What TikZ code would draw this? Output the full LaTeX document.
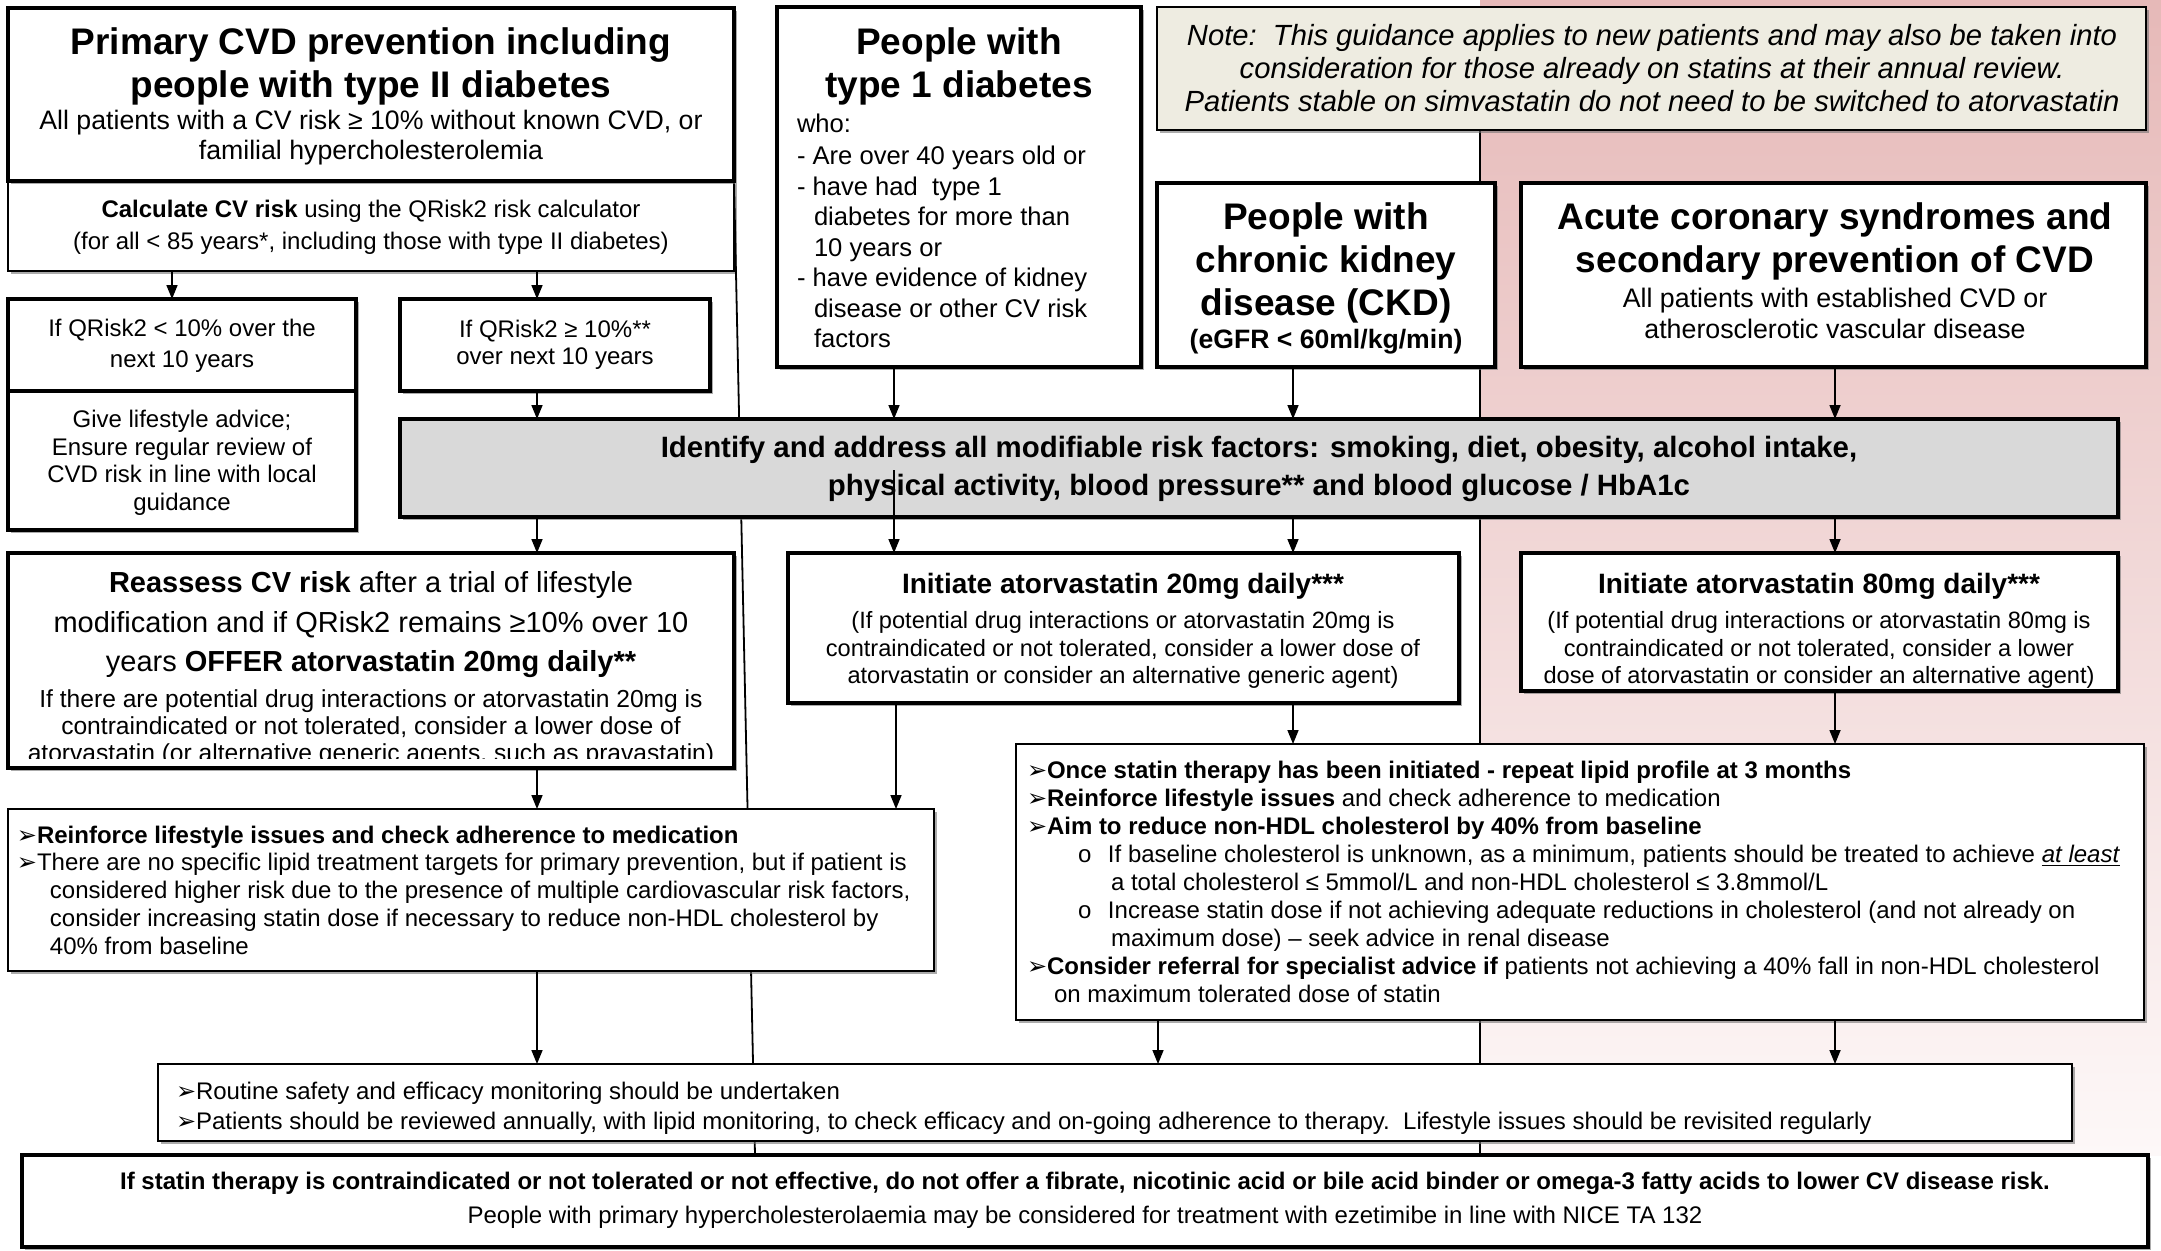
\documentclass[tikz,border=0pt]{standalone}
\usepackage{fontspec}
\setmainfont{Liberation Sans}
\newfontfamily\dejavu{DejaVu Sans}
\usetikzlibrary{arrows.meta,fit,shadows}
\definecolor{notefill}{HTML}{EEECE1}
\definecolor{pinkA}{HTML}{E6B9B8}
\definecolor{pinkB}{HTML}{FDF8F8}
\definecolor{idfill}{HTML}{D9D9D9}
\newcommand\myfs[2]{\fontsize{#1}{#2}\selectfont}
\newcommand\bul{\makebox[10pt][l]{\dejavu ➢}}
\newcommand\tstrut{\rule{0pt}{0.8em}}
\tikzset{
  shd/.style={drop shadow={shadow xshift=1.3pt,shadow yshift=-1.3pt,fill=black!55,opacity=0.6}},
  boxk/.style={draw,line width=1.75pt,fill=white,inner sep=0pt,outer sep=0pt,shd},
  boxn/.style={draw,line width=0.75pt,fill=white,inner sep=0pt,outer sep=0pt,shd},
  txt/.style={inner sep=0pt,outer sep=0pt,align=center},
  ltxt/.style={inner sep=0pt,outer sep=0pt,align=left,anchor=north west},
  arr/.style={line width=0.8pt,-{Triangle[length=7pt,width=5.5pt]}},
  ln/.style={line width=0.9pt},
  ttl/.style={font=\myfs{18.5}{21.5}\bfseries},
}
\begin{document}
\begin{tikzpicture}[x=0.5pt,y=-0.5pt]
\useasboundingbox (0,0) rectangle (2161,1250);
\fill[white] (0,0) rectangle (2161,1250);
% pink region
\shade[top color=pinkA,bottom color=pinkB] (1480,0) rectangle (2161,1155);
\coordinate (pk1) at (1480,130);
\coordinate (pk2) at (1480,1155);
\coordinate (lsEnd) at (755,1155);
% column coordinates
\coordinate (cA) at (172,0);
\coordinate (cB) at (537,0);
\coordinate (cC) at (894,0);
\coordinate (cD) at (1293,0);
\coordinate (cE) at (1835,0);
\coordinate (cF) at (1158,0);
\coordinate (cG) at (896,0);
\coordinate (idIn) at (894,470);

% boxes
\node[boxn,fit={(8,181) (734,271)}] (calc) {};
\draw[ln] (calc.north east) -- (lsEnd);
\draw[line width=0.75pt] (pk1) -- (pk2);
\node[boxk,fit={(8,8) (734,181)}] (prim) {};
\node[boxk,fit={(8,299) (356,391)}] (q1) {};
\node[boxk,fit={(8,391) (356,530)}] (life) {};
\node[boxk,fit={(400,299) (710,391)}] (q2) {};
\node[boxk,fit={(777,7) (1141,367)}] (t1) {};
\node[draw,line width=0.75pt,fill=notefill,inner sep=0pt,outer sep=0pt,shd,fit={(1157,7) (2146,130)}] (note) {};
\node[boxk,fit={(1157,183) (1495,367)}] (ckd) {};
\node[boxk,fit={(1521,183) (2146,367)}] (acs) {};
\node[draw,line width=1.75pt,fill=idfill,inner sep=0pt,outer sep=0pt,shd,fit={(400,419) (2118,517)}] (ident) {};
\node[boxk,fit={(8,553) (734,768)}] (reas) {};
\node[boxk,fit={(788,553) (1459,703)}] (i20) {};
\node[boxk,fit={(1521,553) (2118,691)}] (i80) {};
\node[boxn,fit={(1016,744) (2144,1020)}] (once) {};
\node[boxn,fit={(8,809) (934,971)}] (reinf) {};
\node[boxn,fit={(158,1064) (2072,1141)}] (rout) {};
\node[draw,line width=2.25pt,fill=white,inner sep=0pt,outer sep=0pt,shd,fit={(22,1155) (2148,1247)}] (fin) {};

% texts
\node[txt,ttl] (primT) at (371,66) {Primary CVD prevention including\\people with type II diabetes};
\node[txt,font=\myfs{13.35}{15}] (primS) at (371,138) {All patients with a CV risk ≥ 10\% without known CVD, or\\familial hypercholesterolemia};
\node[txt,font=\myfs{12}{16}] (calcT) at (371,227) {\textbf{Calculate CV risk} using the QRisk2 risk calculator\\(for all < 85 years*, including those with type II diabetes)};
\node[txt,font=\myfs{12}{15.5}] (q1T) at (182,346) {If QRisk2 < 10\% over the\\next 10 years};
\node[txt,font=\myfs{12}{13.75}] (lifeT) at (182,463) {Give lifestyle advice;\\Ensure regular review of\\CVD risk in line with local\\guidance};
\node[txt,font=\myfs{12}{13.75}] (q2T) at (555,345) {If QRisk2 ≥ 10\%**\\over next 10 years};
\node[txt,ttl] (t1T) at (959,66) {People with\\type 1 diabetes};
\node[ltxt,font=\myfs{12.8}{15.25}] (t1B) at (797,112) {\tstrut who:\\[1pt]- Are over 40 years old or\\- have had\ \ type 1\\\hspace*{8.5pt}diabetes for more than\\\hspace*{8.5pt}10 years or\\- have evidence of kidney\\\hspace*{8.5pt}disease or other CV risk\\\hspace*{8.5pt}factors};
\node[txt,font=\myfs{14.6}{16.5}\itshape] (noteT) at (1652,68) {Note:\ \ This guidance applies to new patients and may also be taken into\\consideration for those already on statins at their annual review.\\Patients stable on simvastatin do not need to be switched to atorvastatin};
\node[txt,ttl] (ckdT) at (1326,263) {People with\\chronic kidney\\disease (CKD)};
\node[txt,font=\myfs{13.3}{15}\bfseries] (ckdS) at (1326,342) {(eGFR < 60ml/kg/min)};
\node[txt,ttl] (acsT) at (1835,241) {Acute coronary syndromes and\\secondary prevention of CVD};
\node[txt,font=\myfs{13.4}{15.5}] (acsS) at (1835,313) {All patients with established CVD or\\atherosclerotic vascular disease};
\node[txt,font=\myfs{14.7}{19}\bfseries] (identT) at (1259,469) {Identify and address all modifiable risk factors: smoking, diet, obesity, alcohol intake,\\physical activity, blood pressure** and blood glucose / HbA1c};
\node[txt,font=\myfs{14.5}{19.75}] (reasT) at (371,625) {\textbf{Reassess CV risk} after a trial of lifestyle\\modification and if QRisk2 remains ≥10\% over 10\\years \textbf{OFFER atorvastatin 20mg daily**}};
\begin{scope}
\clip (8,553) rectangle (734,758);
\node[txt,font=\myfs{12.3}{13.5}] (reasS) at (371,728) {If there are potential drug interactions or atorvastatin 20mg is\\contraindicated or not tolerated, consider a lower dose of\\atorvastatin (or alternative generic agents, such as pravastatin)};
\end{scope}
\node[txt,font=\myfs{14}{16}\bfseries] (i20T) at (1123,586) {Initiate atorvastatin 20mg daily***};
\node[txt,font=\myfs{11.8}{13.75}] (i20S) at (1123,650) {(If potential drug interactions or atorvastatin 20mg is\\contraindicated or not tolerated, consider a lower dose of\\atorvastatin or consider an alternative generic agent)};
\node[txt,font=\myfs{14}{16}\bfseries] (i80T) at (1819,586) {Initiate atorvastatin 80mg daily***};
\node[txt,font=\myfs{11.8}{13.75}] (i80S) at (1819,650) {(If potential drug interactions or atorvastatin 80mg is\\contraindicated or not tolerated, consider a lower\\dose of atorvastatin or consider an alternative agent)};
\node[ltxt,font=\myfs{12}{14}] (onceT) at (1027,759) {\tstrut\bul\textbf{Once statin therapy has been initiated - repeat lipid profile at 3 months}\\
\bul\textbf{Reinforce lifestyle issues} and check adherence to medication\\
\bul\textbf{Aim to reduce non-HDL cholesterol by 40\% from baseline}\\
\hspace*{25.5pt}\makebox[15pt][l]{o}If baseline cholesterol is unknown, as a minimum, patients should be treated to achieve \underline{\textit{at least}}\\
\hspace*{42pt}a total cholesterol ≤ 5mmol/L and non-HDL cholesterol ≤ 3.8mmol/L\\
\hspace*{25.5pt}\makebox[15pt][l]{o}Increase statin dose if not achieving adequate reductions in cholesterol (and not already on\\
\hspace*{42pt}maximum dose) -- seek advice in renal disease\\
\bul\textbf{Consider referral for specialist advice if} patients not achieving a 40\% fall in non-HDL cholesterol\\
\hspace*{13.5pt}on maximum tolerated dose of statin};
\node[ltxt,font=\myfs{12}{13.85}] (reinfT) at (17,824) {\tstrut\bul\textbf{Reinforce lifestyle issues and check adherence to medication}\\
\bul There are no specific lipid treatment targets for primary prevention, but if patient is\\
\hspace*{16.5pt}considered higher risk due to the presence of multiple cardiovascular risk factors,\\
\hspace*{16.5pt}consider increasing statin dose if necessary to reduce non-HDL cholesterol by\\
\hspace*{16.5pt}40\% from baseline};
\node[ltxt,font=\myfs{12}{15}] (routT) at (176,1080) {\tstrut\bul Routine safety and efficacy monitoring should be undertaken\\
\bul Patients should be reviewed annually, with lipid monitoring, to check efficacy and on-going adherence to therapy.\ \ Lifestyle issues should be revisited regularly};
\node[txt,font=\myfs{12}{16}\bfseries] (finT) at (1085,1183) {If statin therapy is contraindicated or not tolerated or not effective, do not offer a fibrate, nicotinic acid or bile acid binder or omega-3 fatty acids to lower CV disease risk.};
\node[txt,font=\myfs{12}{16}] (finS) at (1085,1217) {People with primary hypercholesterolaemia may be considered for treatment with ezetimibe in line with NICE TA 132};

% arrows
\draw[arr] (calc.south -| cA) -- (q1.north -| cA);
\draw[arr] (calc.south -| cB) -- (q2.north -| cB);
\draw[arr] (q2.south -| cB) -- (ident.north -| cB);
\draw[arr] (t1.south -| cC) -- (ident.north -| cC);
\draw[arr] (ckd.south -| cD) -- (ident.north -| cD);
\draw[arr] (acs.south -| cE) -- (ident.north -| cE);
\draw[arr] (ident.south -| cB) -- (reas.north -| cB);
\draw[arr] (idIn) -- (i20.north -| cC);
\draw[arr] (ident.south -| cD) -- (i20.north -| cD);
\draw[arr] (ident.south -| cE) -- (i80.north -| cE);
\draw[arr] (reas.south -| cB) -- (reinf.north -| cB);
\draw[arr] (i20.south -| cG) -- (reinf.north -| cG);
\draw[arr] (i20.south -| cD) -- (once.north -| cD);
\draw[arr] (i80.south -| cE) -- (once.north -| cE);
\draw[arr] (reinf.south -| cB) -- (rout.north -| cB);
\draw[arr] (once.south -| cF) -- (rout.north -| cF);
\draw[arr] (once.south -| cE) -- (rout.north -| cE);
\end{tikzpicture}
\end{document}
